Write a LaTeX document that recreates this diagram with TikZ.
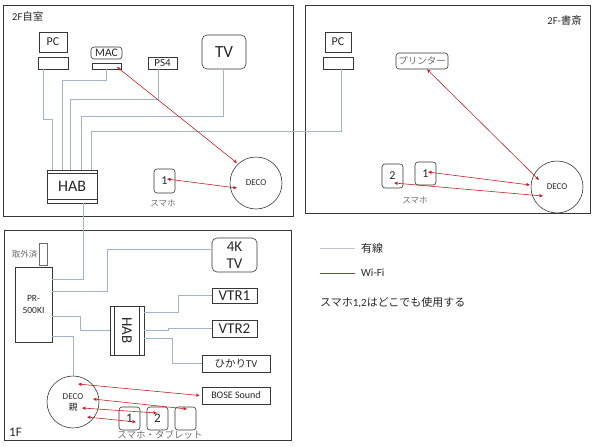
\documentclass[tikz,border=0pt]{standalone}
\usepackage{fontspec}
\setmainfont{Carlito}
\newfontfamily\cjk{Noto Sans CJK JP}
\usetikzlibrary{arrows.meta}
\definecolor{wirec}{RGB}{160,180,200}
\definecolor{wific}{RGB}{195,35,40}
\definecolor{lgwire}{RGB}{190,196,204}
\definecolor{lgwifi}{RGB}{165,60,60}
\definecolor{boxc}{RGB}{55,55,55}
\definecolor{txtc}{RGB}{40,40,40}
\definecolor{lblc}{RGB}{110,110,110}
\tikzset{
  frame/.style={draw=boxc, line width=0.8pt},
  box/.style={draw=boxc, line width=0.6pt, fill=white, inner sep=0pt, align=center, text=txtc},
  rbox/.style={box, rounded corners=3pt},
  wire/.style={draw=wirec, line width=0.8pt},
  wifi/.style={draw=wific, line width=0.6pt, {Stealth[length=4pt,width=3.5pt]}-{Stealth[length=4pt,width=3.5pt]}},
  decoc/.style={circle, draw=boxc, line width=0.6pt, fill=white, minimum size=52pt, inner sep=0pt, align=center, text=txtc, font=\fontsize{9}{11}\selectfont},
  lbl/.style={inner sep=0pt, text=lblc},
  fs/.style={font=\fontsize{#1}{#1}\selectfont},
}
\begin{document}
\begin{tikzpicture}[x=1pt,y=-1pt]
\useasboundingbox (0,0) rectangle (596,447);
% frames
\draw[frame] (3,5) rectangle (293,216);
\draw[frame] (305,5) rectangle (590,213);
\draw[frame] (4,230) rectangle (291,440);
\node[lbl, anchor=west, text=txtc, fs=10.5] (lblA) at (12,17) {2F{\cjk 自室}};
\node[lbl, anchor=east, text=txtc, fs=10.5] (lblB) at (582,21) {2F-{\cjk 書斎}};
\node[lbl, anchor=west, text=txtc, fs=13] (lblC) at (9,432) {1F};

% ---------- 2F room ----------
\node[box, minimum width=28pt, minimum height=20pt, fs=12] (pcA) at (53,42) {PC};
\node[box, minimum width=30pt, minimum height=12pt] (pcAs) at (53,63) {};
\node[rbox, minimum width=31pt, minimum height=12pt, fs=11.5] (mac) at (106.5,53) {MAC};
\node[box, minimum width=29pt, minimum height=6pt] (macs) at (106.5,66) {};
\node[box, minimum width=29pt, minimum height=12pt, fs=11] (ps4) at (162.5,63) {PS4};
\node[rbox, rounded corners=5pt, minimum width=44pt, minimum height=34pt, fs=17] (tv) at (224,52) {TV};
\node[box, minimum width=50pt, minimum height=33pt, fs=16] (hab) at (72,186.5) {HAB};
\draw[boxc, line width=0.5pt] ([yshift=-4pt]hab.north west) -- ([yshift=-4pt]hab.north east);
\draw[boxc, line width=0.5pt] ([yshift=4pt]hab.south west) -- ([yshift=4pt]hab.south east);
\node[rbox, minimum width=21pt, minimum height=24pt, fs=12] (s1) at (164.5,181) {1};
\node[lbl, fs=8.5] (s1l) at (163,203) {\cjk スマホ};
\node[decoc] (decoA) at (256,183) {DECO};

% ---------- 2F study ----------
\node[box, minimum width=26pt, minimum height=20pt, fs=12] (pcB) at (338,42) {PC};
\node[box, minimum width=30pt, minimum height=12pt] (pcBs) at (338,63) {};
\node[rbox, minimum width=52pt, minimum height=16pt, fs=9.5, text=lblc] (prn) at (422,61) {\cjk プリンター};
\node[rbox, minimum width=21pt, minimum height=24pt, fs=12] (b2) at (392.5,176) {2};
\node[rbox, minimum width=21pt, minimum height=23pt, fs=12] (b1) at (425.5,173.5) {1};
\node[lbl, fs=8.5] (bsl) at (415,200) {\cjk スマホ};
\node[decoc] (decoB) at (557,187) {DECO};

% ---------- 1F ----------
\node[box, draw=lblc, minimum width=8pt, minimum height=22pt] (tori) at (43,254) {};
\node[lbl, anchor=east, fs=8.5] (toril) at ([xshift=-1pt]tori.west) {\cjk 取外済};
\node[box, minimum width=37pt, minimum height=75pt, fs=9.5] (pr) at (33.5,304.5) {PR-\\[3pt]500KI};
\node[rbox, rounded corners=5pt, minimum width=45pt, minimum height=34pt, font=\fontsize{15}{17}\selectfont] (tv4k) at (234.5,255) {4K\\TV};
\node[box, minimum width=45pt, minimum height=15pt, fs=15] (vtr1) at (234.5,295.5) {VTR1};
\node[box, minimum width=45pt, minimum height=17pt, fs=15] (vtr2) at (234.5,328.5) {VTR2};
\node[box, minimum width=68pt, minimum height=17pt, fs=10.5] (hikari) at (236,363.5) {{\cjk ひかり}TV};
\node[box, minimum width=68pt, minimum height=17pt, fs=10] (bose) at (236,395.5) {BOSE Sound};
\node[box, minimum width=34pt, minimum height=49pt] (hab1) at (127,330.5) {};
\node[rotate=-90, inner sep=0pt, text=txtc, fs=15] (hab1t) at (hab1.center) {HAB};
\draw[boxc, line width=0.5pt] ([xshift=5pt]hab1.north west) -- ([xshift=5pt]hab1.south west);
\draw[boxc, line width=0.5pt] ([xshift=-5pt]hab1.north east) -- ([xshift=-5pt]hab1.south east);
\node[decoc] (deco1) at (73,402) {DECO\\{\cjk 親}};
\node[rbox, minimum width=21pt, minimum height=23pt, fs=13] (t1) at (129.5,418.5) {1};
\node[rbox, minimum width=21pt, minimum height=23pt, fs=13] (t2) at (157.5,418.5) {2};
\node[rbox, minimum width=21pt, minimum height=23pt] (t3) at (185.5,418.5) {};
\node[lbl, fs=9.5] (tl) at (160,435) {\cjk スマホ・タブレット};

% ---------- wires ----------
\draw[wire] ([xshift=-10pt]pcAs.south) -- ++(0,50) -| ([xshift=6pt]hab.north west);
\draw[wire] (macs.south) -- ++(0,11) -| ([xshift=16pt]hab.north west);
\draw[wire] ([xshift=-4.5pt]ps4.south) -- ++(0,30) -| ([xshift=24pt]hab.north west);
\draw[wire] ([xshift=-1pt]tv.south) -- ++(0,47) -| ([xshift=35pt]hab.north west);
\draw[wire] ([xshift=3pt]pcBs.south) -- ++(0,62) -| ([xshift=45pt]hab.north west);
\draw[wire] ([xshift=11pt]hab.south) |- ([yshift=-13pt]pr.north east);
\draw[wire] ([yshift=-25pt]pr.north east) -- ++(55,0) |- ([yshift=6pt]tv4k.west);
\draw[wire] ([yshift=-50pt]pr.north east) -- ++(28,0) |- (hab1.west);
\draw[wire] ([yshift=-70pt]pr.north east) -| (deco1.north);
\draw[wire] ([yshift=-7pt]hab1.north east) -- ++(34,0) |- (vtr1.west);
\draw[wire] (hab1.east) -- ++(24,0) |- (vtr2.west);
\draw[wire] ([yshift=17pt]hab1.south east) -- ++(28,0) |- (hikari.west);

% ---------- wifi ----------
\draw[wifi] ([xshift=10.5pt,yshift=-1pt]macs.center) -- ([xshift=-19pt,yshift=20pt]decoA.center);
\draw[wifi] ([xshift=2.5pt,yshift=2pt]s1.center) -- ([xshift=-19pt,yshift=-5pt]decoA.center);
\draw[wifi] ([xshift=5pt]prn.south) -- ([xshift=-18pt,yshift=7pt]decoB.center);
\draw[wifi] ([xshift=2.5pt,yshift=1.5pt]b1.center) -- ([xshift=-27pt,yshift=2pt]decoB.center);
\draw[wifi] ([xshift=1.5pt,yshift=-7pt]b2.center) -- ([xshift=-14pt,yshift=-9pt]decoB.center);
\draw[wifi] ([xshift=5pt,yshift=18pt]deco1.center) -- ([xshift=-2pt]bose.west);
\draw[wifi] ([xshift=20pt,yshift=3pt]deco1.center) -- ([xshift=1.5pt,yshift=9.5pt]t3.center);
\draw[wifi] ([xshift=9pt,yshift=-6pt]deco1.center) -- ([xshift=-0.5pt,yshift=5.5pt]t2.center);
\draw[wifi] ([xshift=14pt,yshift=-15pt]deco1.center) -- ([xshift=6.5pt,yshift=-3.5pt]t1.center);

% ---------- legend ----------
\coordinate (lg1a) at (320,248);
\coordinate (lg1b) at (355,248);
\coordinate (lg2a) at (320,273);
\coordinate (lg2b) at (355,273);
\draw[draw=lgwire, line width=0.9pt] (lg1a) -- (lg1b);
\draw[draw=lgwifi, line width=0.9pt] (lg2a) -- (lg2b);
\node[lbl, anchor=west, text=txtc, fs=11] (lg1t) at (361,248) {\cjk 有線};
\node[lbl, anchor=west, text=txtc, fs=11] (lg2t) at (361,273) {Wi-Fi};
\node[lbl, anchor=west, text=txtc, fs=11] (note) at (320,303) {{\cjk スマホ}1,2{\cjk はどこでも使用する}};
\end{tikzpicture}
\end{document}
